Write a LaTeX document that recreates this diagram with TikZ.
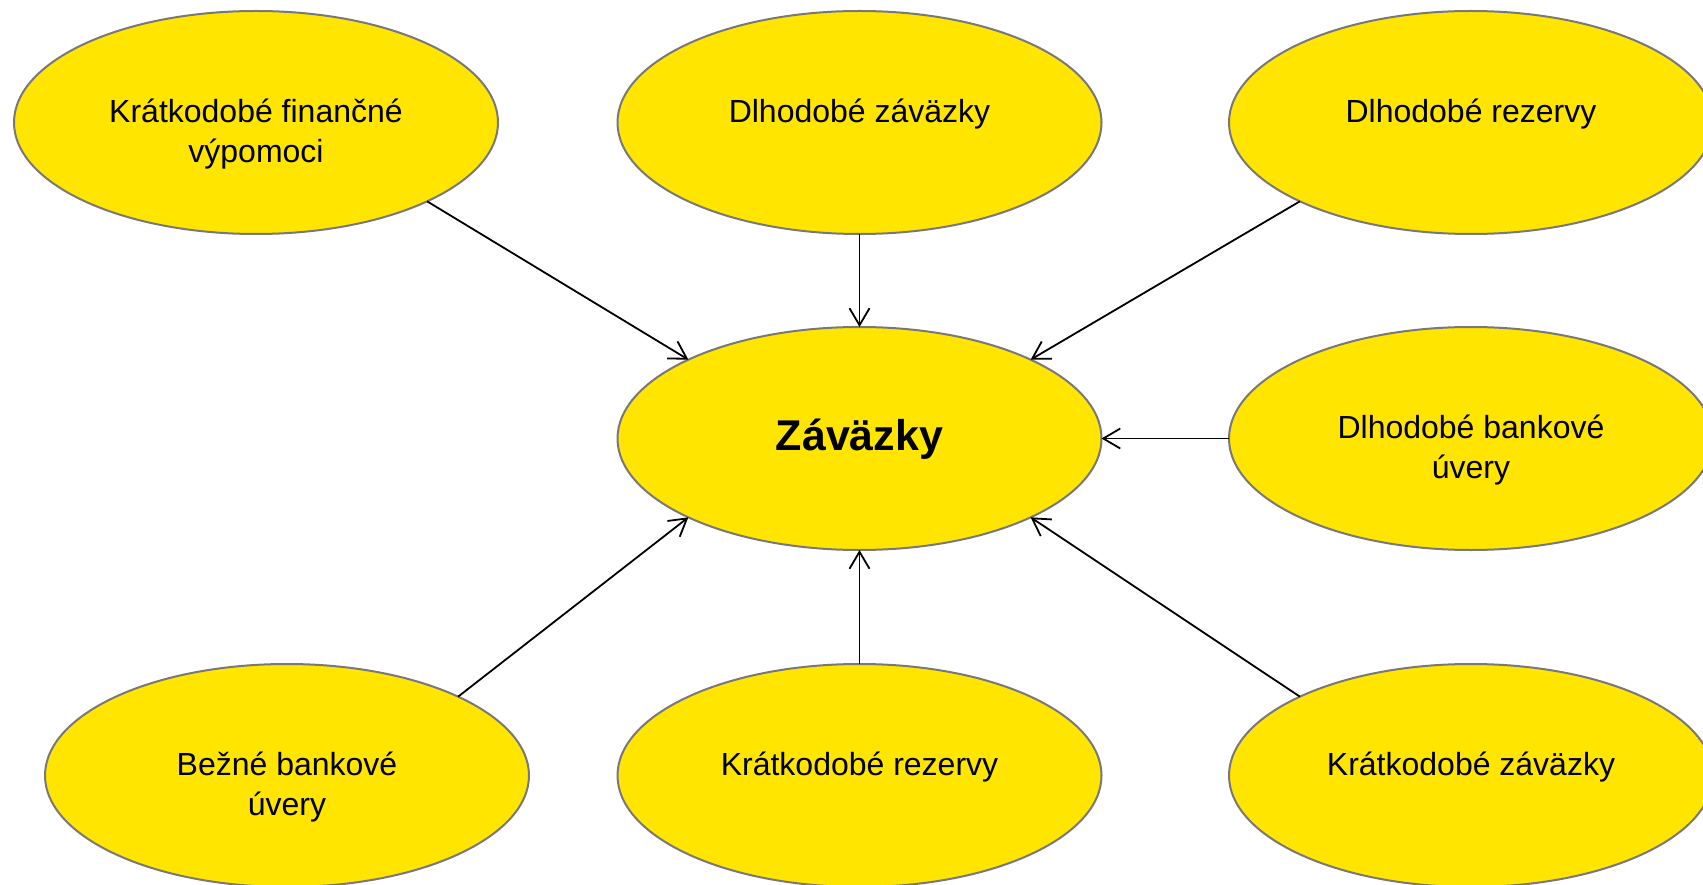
\documentclass[tikz,border=0pt]{standalone}
\usepackage{fontspec}
\setmainfont{Liberation Sans}
\usetikzlibrary{shapes.geometric,arrows.meta}
\definecolor{fillyel}{RGB}{255,229,0}
\definecolor{rimgray}{RGB}{120,120,120}
\begin{document}
\begin{tikzpicture}[x=1pt,y=-1pt,
  bubble/.style={ellipse, draw=rimgray, line width=2pt, fill=fillyel,
    minimum width=484pt, minimum height=223pt, inner sep=0pt, outer sep=0pt},
  lbl/.style={anchor=base, inner sep=0pt, font=\fontsize{32}{40}\selectfont},
  mainlbl/.style={anchor=base, inner sep=0pt, font=\fontsize{43}{50}\selectfont\bfseries},
  link/.style={line width=1.8pt, -{Straight Barb[length=17pt,width=20pt,line width=1.8pt]}}]
\useasboundingbox (0,0) rectangle (1703,885);
\clip (0,0) rectangle (1703,885);
% ellipses
\node[bubble] (tl) at (256,122.5) {};
\node[bubble] (tm) at (859.5,122.5) {};
\node[bubble] (tr) at (1471,122.5) {};
\node[bubble] (c)  at (859.5,438.5) {};
\node[bubble] (mr) at (1471,438.5) {};
\node[bubble] (bl) at (287,775.5) {};
\node[bubble] (bm) at (859.5,775.5) {};
\node[bubble] (br) at (1471,775.5) {};
% labels
\node[lbl] (ltl) at (tl.center) {\begin{tabular}[t]{@{}c@{}}Krátkodobé finančné\\výpomoci\end{tabular}};
\node[lbl] (ltm) at (tm.center) {Dlhodobé záväzky};
\node[lbl] (ltr) at (tr.center) {Dlhodobé rezervy};
\node[mainlbl] (lc) at ([yshift=-11.5pt]c.center) {Záväzky};
\node[lbl] (lmr) at (mr.center) {\begin{tabular}[t]{@{}c@{}}Dlhodobé bankové\\úvery\end{tabular}};
\node[lbl] (lbl) at (bl.center) {\begin{tabular}[t]{@{}c@{}}Bežné bankové\\úvery\end{tabular}};
\node[lbl] (lbm) at (bm.center) {Krátkodobé rezervy};
\node[lbl] (lbr) at (br.center) {Krátkodobé záväzky};
% connectors
\draw[link] (tl.south east) -- (c.north west);
\draw[link] (tm.south) -- (c.north);
\draw[link] (tr.south west) -- (c.north east);
\draw[link] (mr.west) -- (c.east);
\draw[link] (bl.north east) -- (c.south west);
\draw[link] (bm.north) -- (c.south);
\draw[link] (br.north west) -- (c.south east);
\end{tikzpicture}
\end{document}
